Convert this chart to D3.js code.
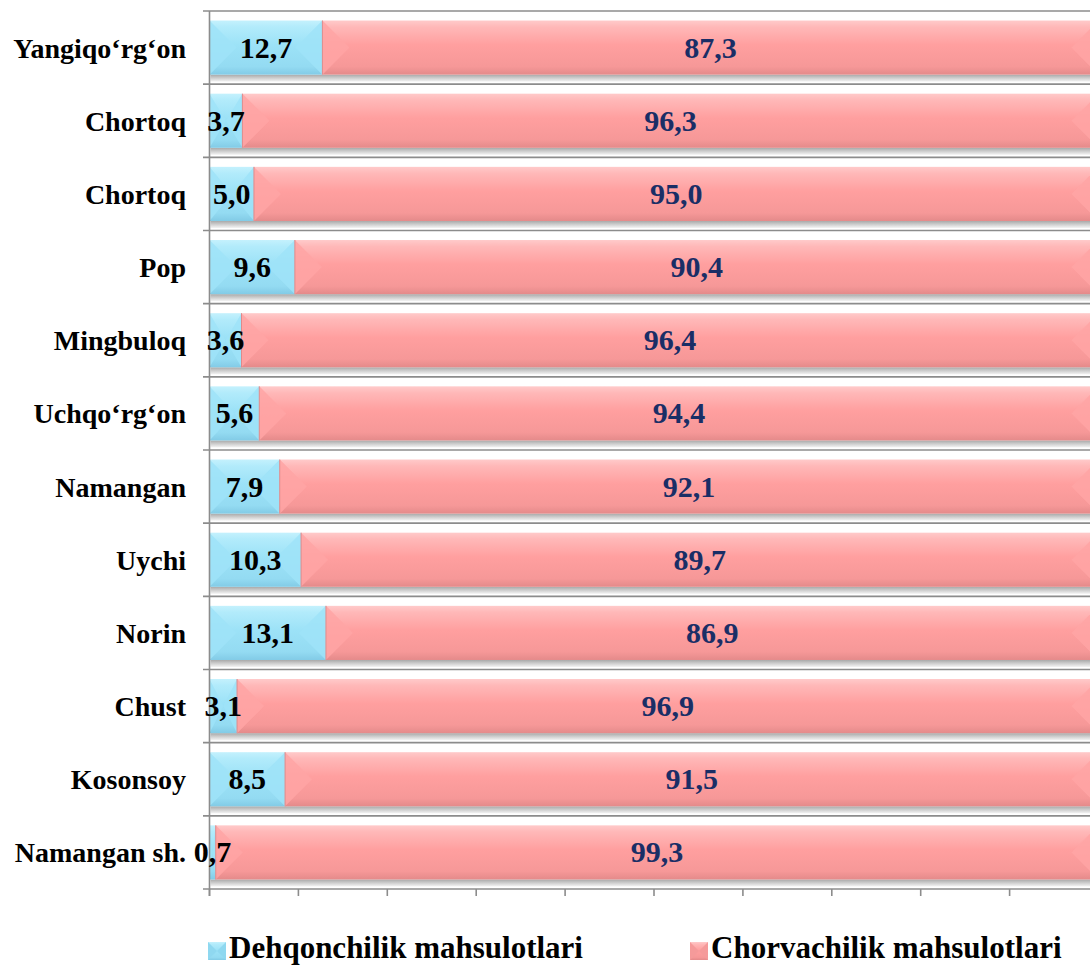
<!DOCTYPE html>
<html>
<head>
<meta charset="utf-8">
<script src="https://cdn.jsdelivr.net/npm/d3@7"></script>
<style>
  body { margin: 0; background: #fff; }
  svg text { font-family: "Liberation Serif", "Times New Roman", serif; font-weight: bold; }
</style>
</head>
<body>
<div id="chart"></div>
<script>
// data, top to bottom as in the picture
const districts = ["Yangiqo‘rg‘on", "Chortoq", "Chortoq", "Pop", "Mingbuloq", "Uchqo‘rg‘on",
    "Namangan", "Uychi", "Norin", "Chust", "Kosonsoy", "Namangan sh."];
const dehqon = [12.7, 3.7, 5.0, 9.6, 3.6, 5.6, 7.9, 10.3, 13.1, 3.1, 8.5, 0.7];
const chorva = [87.3, 96.3, 95.0, 90.4, 96.4, 94.4, 92.1, 89.7, 86.9, 96.9, 91.5, 99.3];
const seriesNames = ["Dehqonchilik mahsulotlari", "Chorvachilik mahsulotlari"];
const xTicks = [0, 10, 20, 30, 40, 50, 60, 70, 80, 90, 100];

const fmt = v => v.toFixed(1).replace(".", ",");

const drawChart = function() {
    const svg = d3.select("#chart")
        .append("svg")
        .attr("width", 1090)
        .attr("height", 966);

    const defs = svg.append("defs");
    const addGrad = function(id, stops) {
        const g = defs.append("linearGradient").attr("id", id)
            .attr("x1", 0).attr("y1", 0).attr("x2", 0).attr("y2", 1);
        stops.forEach(s => g.append("stop").attr("offset", s[0]).attr("stop-color", s[1]));
    };
    addGrad("blueGrad", [["0%", "#c4f1fd"], ["12%", "#b2ebfb"], ["45%", "#9ce2f7"], ["85%", "#94dbf2"], ["100%", "#82cbe6"]]);
    addGrad("pinkGrad", [["0%", "#ffcaca"], ["12%", "#ffb8b8"], ["45%", "#ff9f9f"], ["85%", "#f69898"], ["100%", "#e48a8a"]]);
    addGrad("shadowGrad", [["0%", "#a9a9a9"], ["50%", "#cfcfcf"], ["100%", "#f4f4f4"]]);

    const x = d3.scaleLinear().domain([0, 100]).range([209.5, 1098.5]);
    const y = d3.scaleBand().domain(d3.range(districts.length)).range([11, 889]).paddingInner(0.26).paddingOuter(0.13);
    const step = y.step();

    const rows = districts.map((name, i) => ({ i, name, a: dehqon[i], b: chorva[i] }));
    const segs = rows.flatMap(d => [
        { i: d.i, s: 0, x0: 0, x1: d.a, v: d.a },
        { i: d.i, s: 1, x0: d.a, x1: d.a + d.b, v: d.b }
    ]);

    // horizontal grid at category borders
    const borders = d3.range(districts.length + 1).map(k => 11 + k * step);
    svg.append("g").selectAll("line")
        .data(borders)
        .join("line")
        .attr("x1", 203).attr("x2", 1090)
        .attr("y1", d => d).attr("y2", d => d)
        .attr("stroke", "#8c8c8c").attr("stroke-width", 1.6);

    // bar shadows
    svg.append("g").selectAll("rect")
        .data(rows)
        .join("rect")
        .attr("x", x(0) + 1)
        .attr("y", d => y(d.i) + y.bandwidth())
        .attr("width", x(100) - x(0))
        .attr("height", 7)
        .attr("fill", "url(#shadowGrad)");

    const bars = svg.append("g");
    bars.selectAll("rect")
        .data(segs)
        .join("rect")
        .attr("x", d => x(d.x0))
        .attr("y", d => y(d.i))
        .attr("width", d => x(d.x1) - x(d.x0))
        .attr("height", y.bandwidth())
        .attr("fill", d => d.s === 0 ? "url(#blueGrad)" : "url(#pinkGrad)");

    // bevel triangles on both ends of each segment
    const bevel = function(d, side) {
        const h = y.bandwidth();
        const w = x(d.x1) - x(d.x0);
        const b = Math.min(h / 2, w / 2);
        const top = y(d.i), mid = top + h / 2, bot = top + h;
        if (side === "l") {
            const x0 = x(d.x0);
            return `M${x0},${top}L${x0 + b},${mid}L${x0},${bot}Z`;
        }
        const x1 = x(d.x1);
        return `M${x1},${top}L${x1 - b},${mid}L${x1},${bot}Z`;
    };
    ["l", "r"].forEach(side => {
        bars.append("g").selectAll("path")
            .data(segs)
            .join("path")
            .attr("d", d => bevel(d, side))
            .attr("fill", d => d.s === 0 ? "#9fe3f8" : "#ffa5a5")
            .attr("opacity", 0.85);
    });
    bars.selectAll("line.sep")
        .data(segs.filter(d => d.s === 1))
        .join("line")
        .attr("class", "sep")
        .attr("x1", d => x(d.x0)).attr("x2", d => x(d.x0))
        .attr("y1", d => y(d.i)).attr("y2", d => y(d.i) + y.bandwidth())
        .attr("stroke", "#e08a8a").attr("stroke-width", 1);

    // axes
    svg.append("line")
        .attr("x1", x(0)).attr("x2", x(0)).attr("y1", 11).attr("y2", 896)
        .attr("stroke", "#8c8c8c").attr("stroke-width", 1.6);
    svg.append("g").selectAll("line")
        .data(xTicks)
        .join("line")
        .attr("x1", d => x(d)).attr("x2", d => x(d))
        .attr("y1", 889).attr("y2", 896)
        .attr("stroke", "#8c8c8c").attr("stroke-width", 1.6);

    // category labels
    svg.append("g").selectAll("text")
        .data(rows)
        .join("text")
        .attr("x", 186)
        .attr("y", d => y(d.i) + y.bandwidth() / 2 + 10)
        .attr("text-anchor", "end")
        .attr("font-size", 28)
        .attr("fill", "#000")
        .text(d => d.name);

    // value labels
    svg.append("g").selectAll("text")
        .data(segs)
        .join("text")
        .attr("x", d => x((d.x0 + d.x1) / 2))
        .attr("y", d => y(d.i) + y.bandwidth() / 2 + 10)
        .attr("text-anchor", "middle")
        .attr("font-size", 30)
        .attr("fill", d => d.s === 0 ? "#000" : "#1a2e66")
        .text(d => fmt(d.v));

    // legend
    const legX = [208, 690];
    const leg = svg.append("g").selectAll("g")
        .data(seriesNames)
        .join("g")
        .attr("transform", (d, k) => `translate(${legX[k]},942)`);
    leg.append("rect")
        .attr("width", 18).attr("height", 18)
        .attr("fill", (d, k) => k === 0 ? "url(#blueGrad)" : "url(#pinkGrad)");
    leg.append("path")
        .attr("d", "M0,0L9,9L0,18Z M18,0L9,9L18,18Z")
        .attr("fill", (d, k) => k === 0 ? "#8fd8f0" : "#f59a9a");
    leg.append("text")
        .attr("x", 21).attr("y", 16)
        .attr("font-size", 31)
        .attr("fill", "#000")
        .text(d => d);
};

drawChart();
</script>
</body>
</html>
